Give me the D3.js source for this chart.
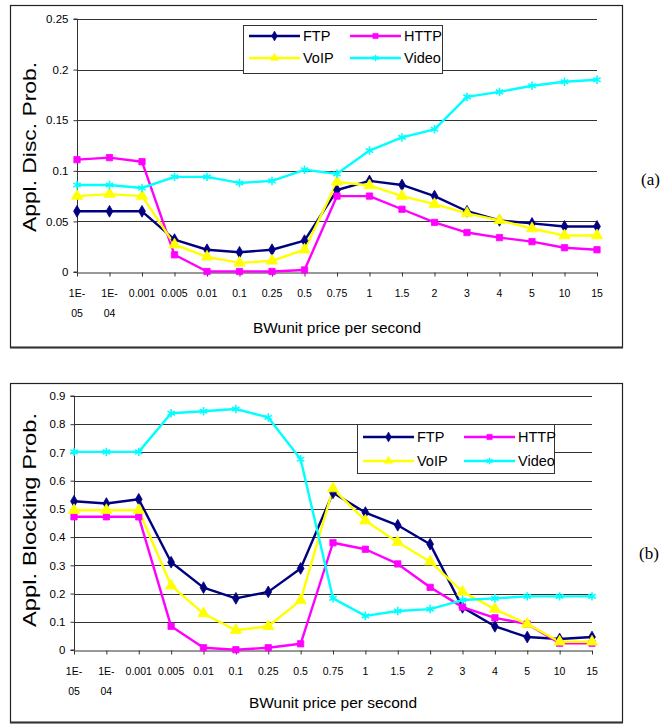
<!DOCTYPE html>
<html>
<head>
<meta charset="utf-8">
<script src="https://cdn.jsdelivr.net/npm/d3@7"></script>
<style>
  body { margin: 0; background: #fff; }
  text { font-family: "Liberation Sans", Arial, sans-serif; fill: #000; }
  .panel-label { font-family: "Liberation Serif", "Times New Roman", serif; }
</style>
</head>
<body>
<div id="chart"></div>
<script>
// categories on the x axis (BW unit price per second)
const categories = ["1E-05", "1E-04", "0.001", "0.005", "0.01", "0.1", "0.25", "0.5",
  "0.75", "1", "1.5", "2", "3", "4", "5", "10", "15"];
// Excel wraps the first two labels onto two lines
const tickLabels = [["1E-", "05"], ["1E-", "04"], ["0.001"], ["0.005"], ["0.01"], ["0.1"],
  ["0.25"], ["0.5"], ["0.75"], ["1"], ["1.5"], ["2"], ["3"], ["4"], ["5"], ["10"], ["15"]];

const seriesNames = ["FTP", "HTTP", "VoIP", "Video"];

// (a) application disconnection probability
const ftpDisc = [0.060, 0.060, 0.060, 0.032, 0.022, 0.0195, 0.022, 0.031, 0.081, 0.090, 0.086, 0.075, 0.060, 0.051, 0.048, 0.045, 0.045];
const httpDisc = [0.111, 0.113, 0.109, 0.017, 0.0005, 0.0005, 0.0005, 0.002, 0.075, 0.075, 0.062, 0.049, 0.039, 0.034, 0.030, 0.024, 0.022];
const voipDisc = [0.075, 0.077, 0.075, 0.027, 0.015, 0.009, 0.011, 0.022, 0.089, 0.0855, 0.075, 0.067, 0.058, 0.051, 0.043, 0.036, 0.036];
const videoDisc = [0.086, 0.086, 0.083, 0.094, 0.094, 0.088, 0.090, 0.101, 0.097, 0.120, 0.133, 0.141, 0.173, 0.178, 0.184, 0.188, 0.190];
const discTicks = [0, 0.05, 0.1, 0.15, 0.2, 0.25];

// (b) application blocking probability
const ftpBlock = [0.527, 0.519, 0.534, 0.311, 0.221, 0.183, 0.206, 0.289, 0.557, 0.487, 0.442, 0.375, 0.151, 0.084, 0.046, 0.039, 0.046];
const httpBlock = [0.472, 0.472, 0.472, 0.084, 0.008, 0.001, 0.008, 0.022, 0.380, 0.357, 0.305, 0.222, 0.152, 0.114, 0.092, 0.024, 0.024];
const voipBlock = [0.495, 0.495, 0.495, 0.228, 0.129, 0.070, 0.084, 0.176, 0.572, 0.458, 0.382, 0.313, 0.206, 0.145, 0.092, 0.029, 0.029];
const videoBlock = [0.702, 0.702, 0.702, 0.839, 0.846, 0.854, 0.824, 0.676, 0.183, 0.121, 0.138, 0.145, 0.177, 0.183, 0.190, 0.190, 0.190];
const blockTicks = [0, 0.1, 0.2, 0.3, 0.4, 0.5, 0.6, 0.7, 0.8, 0.9];

const colors = ["#000080", "#ff00ff", "#ffff00", "#00ffff"];
const markers = [d3.symbolDiamond, d3.symbolSquare, d3.symbolTriangle, d3.symbolAsterisk];

const svg = d3.select("#chart")
  .append("svg")
  .attr("width", 662)
  .attr("height", 724);

svg.append("rect").attr("width", 662).attr("height", 724).attr("fill", "#fff");

function markerPath(i, size) {
  return d3.symbol().type(markers[i]).size(size)();
}

function drawChart(cfg) {
  const g = svg.append("g");

  // chart area frame
  g.append("rect")
    .attr("x", cfg.frame[0] + 0.5)
    .attr("y", cfg.frame[1] + 0.5)
    .attr("width", cfg.frame[2])
    .attr("height", cfg.frame[3])
    .attr("fill", "#fff")
    .attr("stroke", "#222")
    .attr("stroke-width", 1.2);
  g.append("line")
    .attr("x1", cfg.frame[0])
    .attr("x2", cfg.frame[0] + cfg.frame[2] + 1)
    .attr("y1", cfg.frame[1] + cfg.frame[3] + 0.5)
    .attr("y2", cfg.frame[1] + cfg.frame[3] + 0.5)
    .attr("stroke", "#333")
    .attr("stroke-width", 2);

  const x = d3.scalePoint().domain(categories).range(cfg.xRange).padding(0);
  const y = d3.scaleLinear().domain([0, cfg.yMax]).range(cfg.yRange);

  // gridlines
  g.selectAll(".grid")
    .data(cfg.yTicks.slice(1))
    .enter()
    .append("line")
    .attr("x1", cfg.xRange[0])
    .attr("x2", cfg.xRange[1])
    .attr("y1", (d) => Math.round(y(d)) + 0.5)
    .attr("y2", (d) => Math.round(y(d)) + 0.5)
    .attr("stroke", "#333")
    .attr("stroke-width", 1);

  // y axis
  const yAxis = g.append("g")
    .attr("transform", `translate(${cfg.xRange[0] + 0.5},0)`)
    .call(d3.axisLeft(y).tickValues(cfg.yTicks).tickSize(4).tickPadding(5)
      .tickFormat((d) => String(+d.toFixed(2))));
  yAxis.select(".domain").attr("stroke", "#333").attr("d", `M-4,${cfg.yRange[1]}H0V${cfg.yRange[0]}H-4`);
  yAxis.selectAll(".tick line").attr("stroke", "#333");
  yAxis.selectAll(".tick text")
    .attr("font-size", 11.5)
    .attr("fill", "#222");

  // x axis
  const xAxis = g.append("g")
    .attr("transform", `translate(0,${Math.round(cfg.yRange[0]) + 0.5})`)
    .call(d3.axisBottom(x).tickSize(4).tickSizeOuter(0).tickFormat(""));
  xAxis.select(".domain").attr("stroke", "#333");
  xAxis.selectAll(".tick line").attr("stroke", "#333");

  categories.forEach((c, i) => {
    tickLabels[i].forEach((line, j) => {
      g.append("text")
        .attr("x", x(c))
        .attr("y", cfg.yRange[0] + 25 + j * 20)
        .attr("text-anchor", "middle")
        .attr("font-size", 10.5)
        .attr("fill", "#222")
        .text(line);
    });
  });

  // axis titles (the original text is stretched, so fix the length)
  g.append("text")
    .attr("x", (cfg.xRange[0] + cfg.xRange[1]) / 2)
    .attr("y", cfg.xTitleY)
    .attr("text-anchor", "middle")
    .attr("font-size", 15)
    .attr("textLength", 168)
    .attr("lengthAdjust", "spacingAndGlyphs")
    .text("BWunit price per second");

  g.append("text")
    .attr("transform", `translate(36,${cfg.yTitleY}) rotate(-90)`)
    .attr("text-anchor", "middle")
    .attr("font-size", 18)
    .attr("textLength", cfg.yTitleLen)
    .attr("lengthAdjust", "spacingAndGlyphs")
    .text(cfg.yTitle);

  // series
  const line = d3.line()
    .x((d, i) => x(categories[i]))
    .y((d) => y(d));

  cfg.series.forEach((values, s) => {
    g.append("path")
      .datum(values)
      .attr("fill", "none")
      .attr("stroke", colors[s])
      .attr("stroke-width", 2.4)
      .attr("stroke-linejoin", "round")
      .attr("d", line);
  });

  cfg.series.forEach((values, s) => {
    g.selectAll(".m" + s)
      .data(values)
      .enter()
      .append("path")
      .attr("transform", (d, i) => `translate(${x(categories[i])},${y(d)})`)
      .attr("d", markerPath(s, s === 3 ? 50 : s === 2 ? 55 : 40))
      .attr("fill", s === 3 ? "none" : colors[s])
      .attr("stroke", colors[s])
      .attr("stroke-width", s === 3 ? 1.6 : 0.8);
  });

  // legend
  const [lx, ly, lw, lh] = cfg.legend;
  const legend = g.append("g");
  legend.append("rect")
    .attr("x", lx + 0.5)
    .attr("y", ly + 0.5)
    .attr("width", lw)
    .attr("height", lh)
    .attr("fill", "#fff")
    .attr("stroke", "#333");

  seriesNames.forEach((name, s) => {
    const col = s % 2, row = Math.floor(s / 2);
    const x0 = lx + 6 + col * 101;
    const yy = ly + cfg.legendRows[row];
    legend.append("line")
      .attr("x1", x0)
      .attr("x2", x0 + 51)
      .attr("y1", yy)
      .attr("y2", yy)
      .attr("stroke", colors[s])
      .attr("stroke-width", 2.4);
    legend.append("path")
      .attr("transform", `translate(${x0 + 25.5},${yy})`)
      .attr("d", markerPath(s, s === 3 ? 30 : 28))
      .attr("fill", s === 3 ? "none" : colors[s])
      .attr("stroke", colors[s])
      .attr("stroke-width", s === 3 ? 1.4 : 0.6);
    legend.append("text")
      .attr("x", x0 + 54)
      .attr("y", yy + 5)
      .attr("font-size", 14.5)
      .text(name);
  });

  g.append("text")
    .attr("class", "panel-label")
    .attr("x", cfg.label[1])
    .attr("y", cfg.label[2])
    .attr("font-size", 17)
    .text(cfg.label[0]);
}

drawChart({
  frame: [10, 5, 612, 342],
  xRange: [77, 597],
  yRange: [272, 19],
  yMax: 0.25,
  yTicks: discTicks,
  series: [ftpDisc, httpDisc, voipDisc, videoDisc],
  yTitle: "Appl. Disc. Prob.",
  yTitleY: 147,
  yTitleLen: 170,
  xTitleY: 333,
  legend: [243, 25, 199, 48],
  legendRows: [11, 33],
  label: ["(a)", 641, 185]
});

drawChart({
  frame: [10, 383, 612, 339],
  xRange: [74, 592],
  yRange: [650, 396],
  yMax: 0.9,
  yTicks: blockTicks,
  series: [ftpBlock, httpBlock, voipBlock, videoBlock],
  yTitle: "Appl. Blocking Prob.",
  yTitleY: 520,
  yTitleLen: 214,
  xTitleY: 708,
  legend: [357, 424, 197, 49],
  legendRows: [13, 37],
  label: ["(b)", 639, 559]
});
</script>
</body>
</html>
